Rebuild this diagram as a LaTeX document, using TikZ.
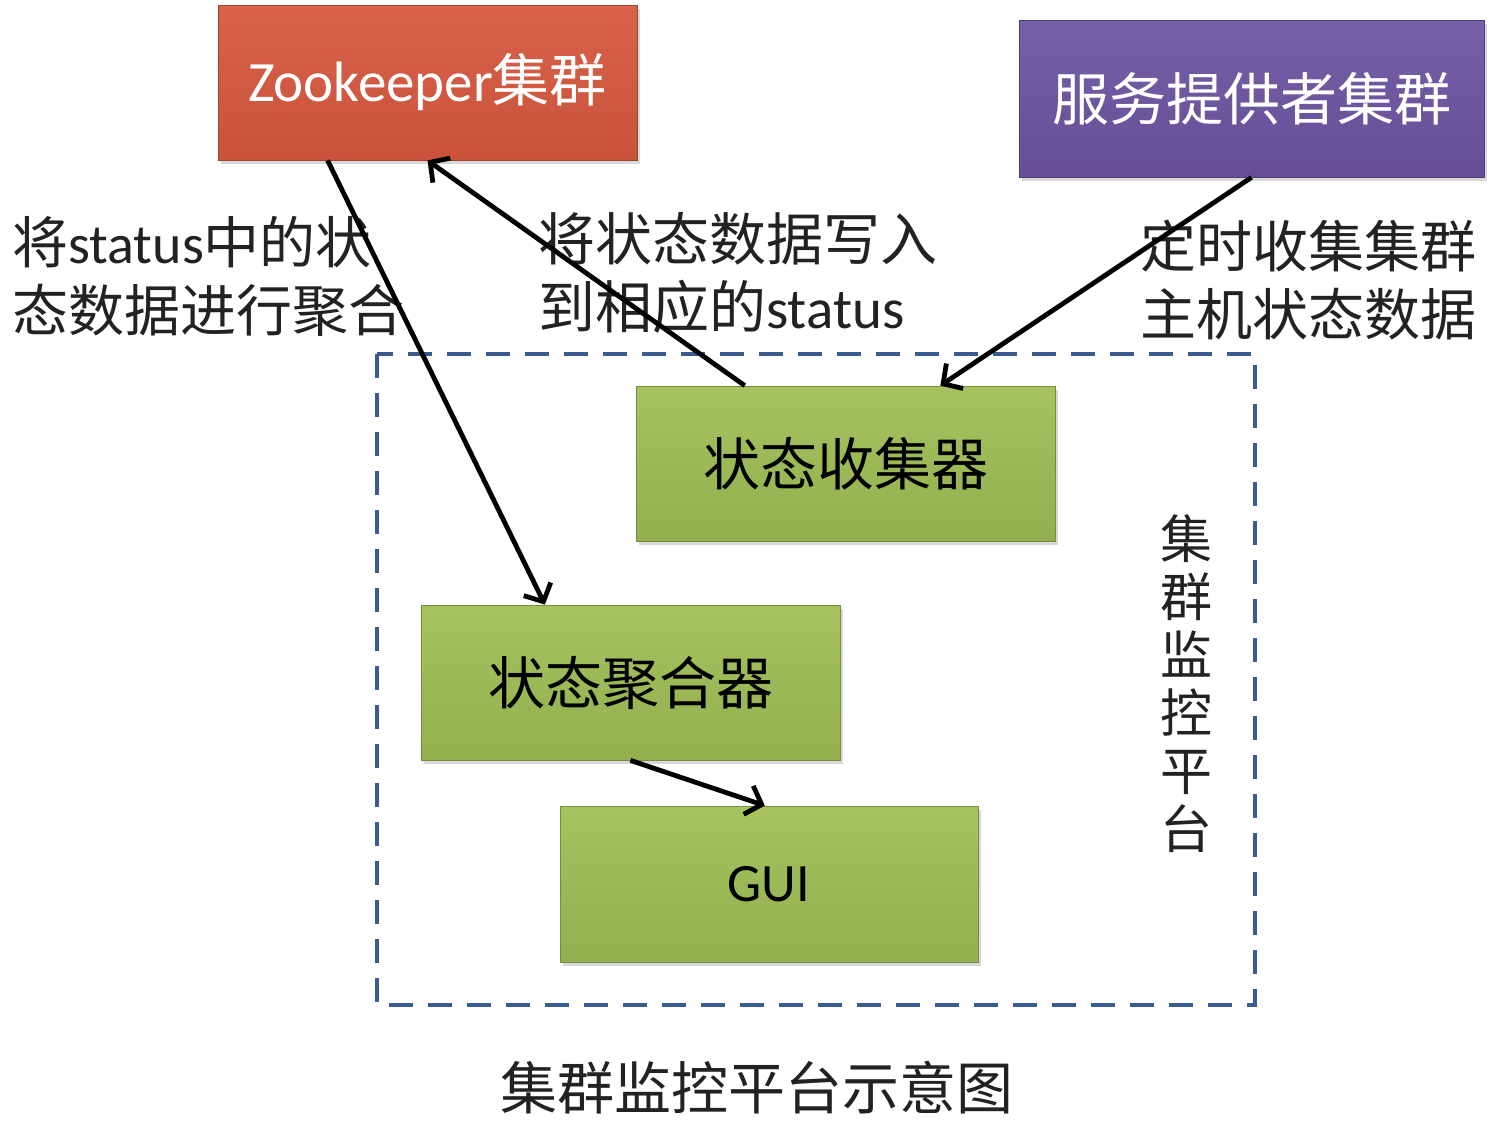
\documentclass[tikz,border=0pt]{standalone}
\usepackage{fontspec}
\setmainfont{Carlito}
\newfontfamily\cjk{Noto Sans CJK SC}
\newfontfamily\lat{Carlito}
\usetikzlibrary{arrows.meta,calc,shadows}
\definecolor{zkredtop}{HTML}{D9634A}
\definecolor{zkredbot}{HTML}{C8523A}
\definecolor{sppurtop}{HTML}{7660A8}
\definecolor{sppurbot}{HTML}{654E95}
\definecolor{grtop}{HTML}{A6C360}
\definecolor{grbot}{HTML}{93AF4E}
\definecolor{dashblue}{HTML}{3A5B8F}
\definecolor{labelgray}{HTML}{222222}
\tikzset{
  boxbase/.style={minimum width=419pt, minimum height=155pt, inner sep=0pt,
    drop shadow={shadow xshift=3pt, shadow yshift=-4pt, opacity=0.3}},
  redbox/.style={boxbase, top color=zkredtop, bottom color=zkredbot, draw=zkredbot!80!black, line width=0.8pt, text=white,
    font=\fontsize{57}{60}\selectfont},
  purbox/.style={boxbase, top color=sppurtop, bottom color=sppurbot, draw=sppurbot!80!black, line width=0.8pt, text=white,
    font=\cjk\fontsize{57}{60}\selectfont},
  grbox/.style={boxbase, top color=grtop, bottom color=grbot, draw=grbot!80!black, line width=0.8pt, text=black,
    font=\cjk\fontsize{57}{60}\selectfont},
  conn/.style={line width=4.8pt, black, -{Straight Barb[length=14pt,width=30pt]}},
  lbl/.style={text=labelgray, inner sep=0pt, align=left, font=\cjk\fontsize{56}{68}\selectfont},
  frame/.style={draw=dashblue, line width=4pt, dash pattern=on 24pt off 15pt},
}
\begin{document}
\begin{tikzpicture}[x=1pt,y=-1pt]
\useasboundingbox[fill=white] (0,0) rectangle (1496,1136);

% dashed platform frame
\draw[frame] (377,354) rectangle (1255,1005);

% boxes
\node[redbox] (zk) at (427.5,82.5) {Zookeeper{\cjk 集群}};
\node[purbox, minimum width=465pt, minimum height=157pt] (sp) at (1251.5,98.5) {服务提供者集群};
\node[grbox] (col) at (845.5,463.5) {状态收集器};
\node[grbox] (agg) at (630.5,682.5) {状态聚合器};
\node[grbox, minimum width=418pt, minimum height=156pt, font=\lat\fontsize{54}{56}\selectfont] (gui) at (769,884) {GUI};

% labels
\node[lbl, anchor=north west] (l1) at (12,216) {将{\lat status}中的状\\态数据进行聚合};
\node[lbl, anchor=north west, font=\cjk\fontsize{57}{68}\selectfont] (l2) at (538,212) {将状态数据写入\\到相应的{\lat status}};
\node[lbl, anchor=north east] (l3) at (1477,220) {定时收集集群\\主机状态数据};
\node[lbl, align=center, font=\cjk\fontsize{52}{58}\selectfont] (vt) at (1186,684) {集\\群\\监\\控\\平\\台};
\node[lbl, font=\cjk\fontsize{57}{60}\selectfont] (cap) at (757,1088) {集群监控平台示意图};

% connectors
\draw[conn] ($(zk.south west)!0.262!(zk.south east)$) -- ($(agg.north west)!0.296!(agg.north east)$);
\draw[conn] ($(col.north west)!0.26!(col.north east)$) -- (zk.south);
\draw[conn] (sp.south) -- ($(col.north west)!0.726!(col.north east)$);
\draw[conn] (agg.south) -- ($(gui.north west)!0.49!(gui.north east)$);
\end{tikzpicture}
\end{document}
